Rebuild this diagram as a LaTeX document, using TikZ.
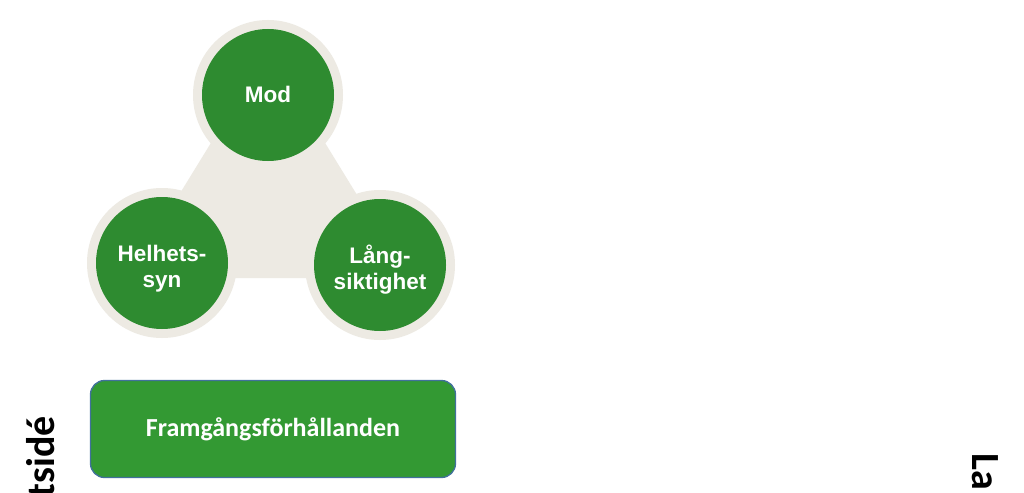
\documentclass[tikz,border=0pt]{standalone}
\usepackage{fontspec}
\setmainfont{Liberation Sans}
\newfontfamily\calfont{Carlito}
\definecolor{ringc}{HTML}{EDEAE3}
\definecolor{circgreen}{HTML}{2E8B30}
\definecolor{boxgreen}{HTML}{339933}
\definecolor{boxborder}{HTML}{41719C}
\tikzset{
  greencirc/.style={circle, fill=circgreen, minimum size=132pt, inner sep=0pt},
  circtext/.style={inner sep=0pt, text=white, font=\fontsize{22.5}{26}\selectfont\bfseries, align=center},
  greenbox/.style={rectangle, rounded corners=14pt, fill=boxgreen, draw=boxborder,
    line width=1.3pt, minimum width=365pt, minimum height=97pt,
    text=white, font=\calfont\fontsize{26}{30}\selectfont\bfseries},
  sidetext/.style={inner sep=0pt, font=\calfont\fontsize{40}{44}\selectfont\bfseries, text=black}
}
\begin{document}
\begin{tikzpicture}[x=1pt,y=-1pt]
\useasboundingbox (0,0) rectangle (1024,492);
\clip (0,0) rectangle (1024,492);
\fill[white] (0,0) rectangle (1024,492);
\coordinate (cm) at (268,95);
\coordinate (ch) at (162,263);
\coordinate (cl) at (380,265);
% background triangle
\fill[ringc] (268,50) -- (408,278) -- (128,278) -- cycle;
% rings
\fill[ringc] (cm) circle[radius=75pt];
\fill[ringc] (ch) circle[radius=75pt];
\fill[ringc] (cl) circle[radius=75pt];
% circles
\node[greencirc] (mod) at (cm) {};
\node[greencirc] (hel) at (ch) {};
\node[greencirc] (lang) at (cl) {};
\node[circtext] (modt) at ([yshift=1pt]mod.center) {Mod};
\node[circtext] (helt) at ([yshift=-6pt]hel.center) {Helhets-\\syn};
\node[circtext] (langt) at ([yshift=-5pt]lang.center) {Lång-\\siktighet};
% box
\node[greenbox] (fram) at (273,429) {Framgångsförhållanden};
% side texts
\node[sidetext, rotate=90, anchor=base east] (left) at (54,416) {tsidé};
\node[sidetext, rotate=-90, anchor=base west] (right) at (972,453) {La};
\end{tikzpicture}
\end{document}
